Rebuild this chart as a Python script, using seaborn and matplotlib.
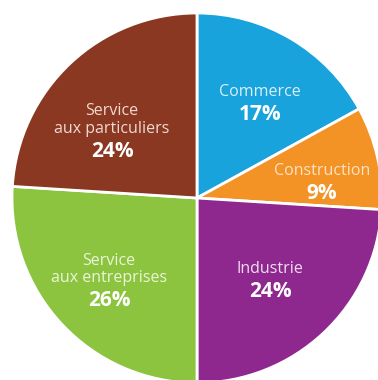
import matplotlib
matplotlib.use("Agg")
import matplotlib.pyplot as plt
import seaborn as sns

# Répartition par secteur (%)
secteurs = ["Commerce", "Construction", "Industrie",
            "Service\naux entreprises", "Service\naux particuliers"]
parts = [17, 9, 24, 26, 24]
couleurs = ["#19A3DD", "#F39325", "#8E278E", "#8CC43F", "#8A3822"]

# centre of the percentage text (data coords, pie radius = 1) and name colour
label_pos = [(0.34, 0.467), (0.676, 0.043), (0.395, -0.49), (-0.476, -0.54), (-0.459, 0.27)]
name_colors = ["#D8F0FA", "#FCE3C4", "#F1DDF1", "#EAF5DA", "#F1D9D0"]


def generate():
    sns.set_theme(style="white")
    plt.rcParams["font.family"] = ["Open Sans", "DejaVu Sans"]

    fig = plt.figure(figsize=(3.78, 3.80), dpi=100)
    # centre at (197, 198) px, radius 185 px -> pie runs off right and bottom
    r = 185
    ax = fig.add_axes([(197 - r) / 378, (380 - 198 - r) / 380, 2 * r / 378, 2 * r / 380])

    ax.pie(parts, colors=couleurs, startangle=90, counterclock=False,
           wedgeprops=dict(edgecolor="white", linewidth=2))
    ax.set_xlim(-1, 1)
    ax.set_ylim(-1, 1)
    ax.set_aspect("equal")
    ax.axis("off")

    for nom, val, (x, y), c in zip(secteurs, parts, label_pos, name_colors):
        ax.text(x, y + 0.062, nom, ha="center", va="bottom", fontsize=11.5,
                color=c, linespacing=1.12)
        ax.text(x, y - 0.046, f"{val}%", ha="center", va="baseline", fontsize=15,
                fontweight="bold", color="white")

    fig.savefig("out.png", dpi=100)


if __name__ == "__main__":
    generate()
